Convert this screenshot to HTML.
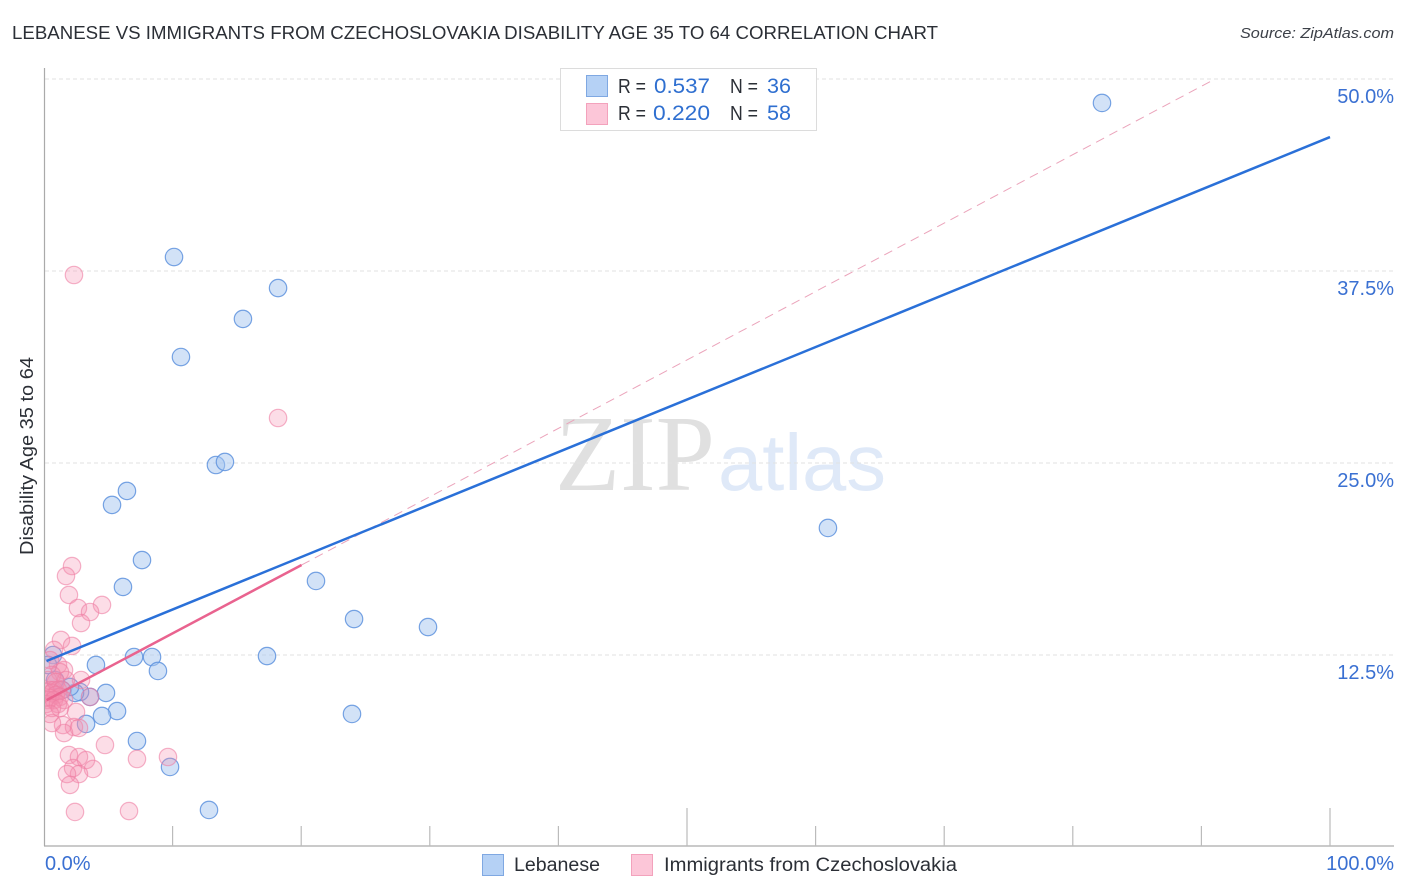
<!DOCTYPE html>
<html>
<head>
<meta charset="utf-8">
<title>Lebanese vs Immigrants from Czechoslovakia Disability Age 35 to 64 Correlation Chart</title>
<style>
html,body{margin:0;padding:0;background:#fff;width:1406px;height:892px;overflow:hidden}
svg{display:block}
text{font-family:"Liberation Sans",sans-serif}
</style>
</head>
<body>
<svg id="chart" width="1406" height="892" viewBox="0 0 1406 892" xmlns="http://www.w3.org/2000/svg">
<defs><clipPath id="plot-clip"><rect x="45" y="60" width="1350" height="786"/></clipPath></defs>
<text x="12" y="39" font-size="18.5" fill="#2b2f36" textLength="926" lengthAdjust="spacingAndGlyphs">LEBANESE VS IMMIGRANTS FROM CZECHOSLOVAKIA DISABILITY AGE 35 TO 64 CORRELATION CHART</text>
<text x="1394" y="38" font-size="15" font-style="italic" fill="#3c4048" text-anchor="end" textLength="154" lengthAdjust="spacingAndGlyphs">Source: ZipAtlas.com</text>
<g>
<text x="555" y="490" font-size="108" fill="#e0e0e0" textLength="160" lengthAdjust="spacingAndGlyphs" style="font-family:'Liberation Serif',serif">ZIP</text>
<text x="718" y="490" font-size="80" fill="#dfe9f8" textLength="168" lengthAdjust="spacingAndGlyphs">atlas</text>
</g>
<g id="grid"></g>
<g id="axes"></g>
<g id="marks" clip-path="url(#plot-clip)"></g>
<g id="lines"></g>
<text transform="translate(33 456) rotate(-90)" font-size="18" fill="#2b2f36" text-anchor="middle" textLength="198" lengthAdjust="spacingAndGlyphs">Disability Age 35 to 64</text>
<g>
<rect x="560.5" y="68.5" width="256" height="62" fill="#fff" stroke="#dcdcdc"/>
<rect x="586.5" y="75.5" width="21" height="21" fill="#b5d1f5" stroke="#7fa8e2"/>
<rect x="586.5" y="103.5" width="21" height="21" fill="#fcc6d8" stroke="#f3a2bc"/>
<text x="618" y="93" font-size="20" fill="#2b2f36" textLength="28" lengthAdjust="spacingAndGlyphs">R =</text>
<text x="654" y="93" font-size="21" fill="#2f6fd0" textLength="56" lengthAdjust="spacingAndGlyphs">0.537</text>
<text x="730" y="93" font-size="20" fill="#2b2f36" textLength="28" lengthAdjust="spacingAndGlyphs">N =</text>
<text x="767" y="93" font-size="21" fill="#2f6fd0" textLength="24" lengthAdjust="spacingAndGlyphs">36</text>
<text x="618" y="120" font-size="20" fill="#2b2f36" textLength="28" lengthAdjust="spacingAndGlyphs">R =</text>
<text x="653" y="120" font-size="21" fill="#2f6fd0" textLength="57" lengthAdjust="spacingAndGlyphs">0.220</text>
<text x="730" y="120" font-size="20" fill="#2b2f36" textLength="28" lengthAdjust="spacingAndGlyphs">N =</text>
<text x="767" y="120" font-size="21" fill="#2f6fd0" textLength="24" lengthAdjust="spacingAndGlyphs">58</text>
</g>
<g>
<rect x="482.5" y="854.5" width="21" height="21" fill="#b5d1f5" stroke="#7fa8e2"/>
<text x="514" y="871" font-size="19" fill="#2b2f36" textLength="86" lengthAdjust="spacingAndGlyphs">Lebanese</text>
<rect x="631.5" y="854.5" width="21" height="21" fill="#fcc6d8" stroke="#f3a2bc"/>
<text x="664" y="871" font-size="19" fill="#2b2f36" textLength="293" lengthAdjust="spacingAndGlyphs">Immigrants from Czechoslovakia</text>
</g>
</svg>
<script>
const yTickValues = [12.5, 25, 37.5, 50];
const yTickLabels = ["12.5%", "25.0%", "37.5%", "50.0%"];
const xTickValues = [10, 20, 30, 40, 50, 60, 70, 80, 90, 100];
const xEndValues = [0, 100];
const xEndLabels = ["0.0%", "100.0%"];

const lebaneseX = [82.27,10.11,18.20,15.47,10.65,13.37,14.07,6.45,5.29,60.96,7.62,6.14,21.15,24.11,29.86,17.34,7.00,8.40,8.86,4.04,0.70,4.82,5.68,4.51,3.27,23.95,7.23,9.80,12.83,3.58,2.80,2.41,2.02,1.40,0.86,0.31];
const lebaneseY = [48.44,38.41,36.39,34.38,31.90,24.87,25.07,23.18,22.27,20.77,18.68,16.93,17.32,14.84,14.32,12.43,12.37,12.37,11.46,11.85,12.50,10.03,8.85,8.53,8.01,8.66,6.90,5.21,2.41,9.77,10.09,10.03,10.42,10.22,10.87,11.85];

const czechX = [2.33,18.20,2.18,1.71,1.94,2.64,4.51,3.58,2.88,1.32,2.18,0.78,1.09,1.56,2.88,3.58,2.49,1.48,2.33,2.72,1.56,0.62,4.74,7.23,9.64,1.94,2.72,3.27,3.81,2.26,2.72,1.79,2.02,2.41,6.61,0.47,1.24,0.62,1.71,0.31,0.93,0.47,0.78,1.09,1.40,0.16,0.62,0.93,1.24,0.47,0.31,0.78,1.56,0.16,1.09,0.62,1.24,0.47];
const czechY = [37.24,27.93,18.29,17.64,16.41,15.56,15.76,15.30,14.58,13.48,13.09,12.83,11.85,11.52,10.87,9.77,8.79,7.94,7.81,7.75,7.42,8.07,6.64,5.73,5.86,5.99,5.86,5.66,5.08,5.14,4.75,4.75,4.04,2.28,2.34,12.17,11.39,11.20,10.87,10.87,10.74,10.22,10.22,10.22,10.22,10.09,10.03,9.90,9.77,9.70,9.57,9.57,9.57,9.31,9.31,9.05,9.05,8.66];

const lebaneseTrendX = [0.2, 100];
const lebaneseTrendY = [12.11, 46.22];
const czechTrendX = [0.2, 20.03];
const czechTrendY = [9.56, 18.36];
const czechExtendX = [20.03, 91.06];
const czechExtendY = [18.36, 50];

const sx = v => 44 + v * 12.86;
const sy = v => 847 - v * 15.36;
const NS = "http://www.w3.org/2000/svg";
function make(tag, attrs, parent) {
  const el = document.createElementNS(NS, tag);
  for (const k in attrs) el.setAttribute(k, attrs[k]);
  parent.appendChild(el);
  return el;
}
const grid = document.getElementById("grid");
const axes = document.getElementById("axes");
const marks = document.getElementById("marks");
const lines = document.getElementById("lines");

yTickValues.forEach((v, i) => {
  const g = make("line", {x1: 45, x2: 1394, y1: sy(v), y2: sy(v), stroke: "#e2e2e2", "stroke-width": 1, "stroke-dasharray": "4 3"}, grid);
  
  
  const t = make("text", {x: 1394, y: sy(v) + 24, "font-size": 20, fill: "#3a70d2", "text-anchor": "end"}, axes);
  
  
  t.textContent = yTickLabels[i];
});

const yAxis = make("line", {x1: 44.5, x2: 44.5, y1: 68, y2: 846, stroke: "#aaaaaa", "stroke-width": 1.2}, axes);


const xAxis = make("line", {x1: 44, x2: 1394, y1: 846, y2: 846, stroke: "#aaaaaa", "stroke-width": 1.2}, axes);



xTickValues.forEach(v => {
  const top = v % 50 === 0 ? 808 : 826;
  const tk = make("line", {x1: sx(v), x2: sx(v), y1: top, y2: 846, stroke: "#bbbbbb", "stroke-width": 1.2}, axes);
  
  
});
xEndValues.forEach((v, i) => {
  const t = make("text", {x: i === 0 ? sx(v) + 1 : 1394, y: 870, "font-size": 20, fill: "#3a70d2", "text-anchor": i === 0 ? "start" : "end"}, axes);
  
  
  t.textContent = xEndLabels[i];
});

lebaneseX.forEach((v, i) => {
  const c = make("circle", {cx: sx(v), cy: sy(lebaneseY[i]), r: 8.7, fill: "#a5c6f0", "fill-opacity": 0.5, stroke: "#5f93de", "stroke-opacity": 0.85, "stroke-width": 1.2}, marks);
  
  
});
czechX.forEach((v, i) => {
  const c = make("circle", {cx: sx(v), cy: sy(czechY[i]), r: 8.7, fill: "#f58fb0", "fill-opacity": 0.3, stroke: "#ee7fa3", "stroke-opacity": 0.6, "stroke-width": 1.2}, marks);
  
  
});

const ext = make("line", {x1: sx(czechExtendX[0]), y1: sy(czechExtendY[0]), x2: sx(czechExtendX[1]), y2: sy(czechExtendY[1]), stroke: "#eba4bb", "stroke-width": 1, "stroke-dasharray": "9 6"}, lines);


const pt = make("line", {x1: sx(czechTrendX[0]), y1: sy(czechTrendY[0]), x2: sx(czechTrendX[1]), y2: sy(czechTrendY[1]), stroke: "#e9638f", "stroke-width": 2.5}, lines);


const bt = make("line", {x1: sx(lebaneseTrendX[0]), y1: sy(lebaneseTrendY[0]), x2: sx(lebaneseTrendX[1]), y2: sy(lebaneseTrendY[1]), stroke: "#2a70d8", "stroke-width": 2.5}, lines);


</script>
</body>
</html>
